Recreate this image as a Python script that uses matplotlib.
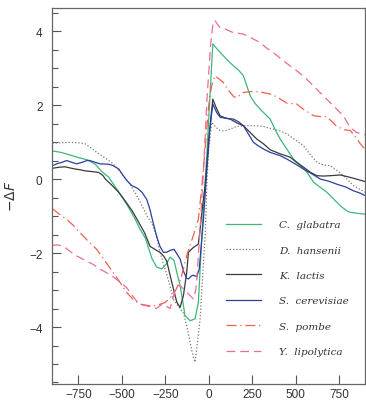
import matplotlib
matplotlib.use("Agg")
import matplotlib.pyplot as plt
from matplotlib.ticker import MultipleLocator

# C. glabatra
x_gla = [-900, -850, -800, -750, -700, -653, -615, -576, -518, -470, -424, -396, -365, -327, -300,
         -271, -245, -223, -200, -180, -165, -150, -137, -108, -79, -60, -45, -31, -12, 5, 23, 50,
         84, 110, 142, 170, 199, 220, 238, 265, 295, 325, 353, 380, 411, 450, 487, 530, 565, 603,
         640, 680, 720, 756, 790, 814, 860, 900]
y_gla = [0.76, 0.72, 0.65, 0.58, 0.52, 0.40, 0.20, 0.05, -0.35, -0.70, -1.08, -1.35, -1.60, -2.15, -2.38,
         -2.43, -2.30, -2.11, -2.20, -2.60, -2.88, -3.30, -3.69, -3.83, -3.78, -3.33, -2.00, -0.80, 0.60, 2.10, 3.65, 3.50,
         3.33, 3.20, 3.06, 2.95, 2.79, 2.50, 2.25, 2.05, 1.89, 1.75, 1.62, 1.35, 1.08, 0.80, 0.54, 0.35, 0.18, -0.09,
         -0.22, -0.36, -0.55, -0.72, -0.85, -0.90, -0.93, -0.95]

# D. hansenii
x_han = [-900, -850, -800, -750, -711, -680, -645, -600, -557, -510, -461, -420, -384, -350, -327, -300,
         -281, -260, -242, -220, -204, -175, -146, -125, -108, -90, -79, -65, -50, -35, -21, -10, 0, 17,
         40, 65, 90, 123, 160, 199, 240, 276, 315, 353, 411, 449, 500, 545, 585, 622, 660, 699, 740,
         775, 833, 870, 900]
y_han = [0.97, 0.98, 0.99, 0.98, 0.95, 0.85, 0.72, 0.58, 0.44, 0.20, -0.09, -0.40, -0.72, -1.05, -1.20, -1.55,
         -1.98, -2.30, -2.58, -2.95, -3.25, -3.45, -3.62, -4.00, -4.41, -4.80, -4.95, -4.40, -3.78, -2.60, -1.53, 0.00, 0.80, 1.53,
         1.40, 1.31, 1.30, 1.35, 1.42, 1.44, 1.44, 1.44, 1.42, 1.37, 1.30, 1.22, 1.05, 0.90, 0.65, 0.45, 0.38, 0.36, 0.22,
         0.09, -0.18, -0.28, -0.36]

# K. lactis
x_lac = [-900, -860, -826, -780, -740, -711, -670, -634, -610, -595, -555, -518, -480, -442, -403, -370,
         -338, -300, -281, -260, -242, -213, -184, -165, -146, -127, -117, -89, -60, -50, -35, -21, 0,
         23, 45, 65, 95, 123, 160, 199, 240, 276, 315, 353, 411, 468, 505, 545, 585, 622, 660, 699,
         756, 800, 833, 900]
y_lac = [0.29, 0.32, 0.33, 0.28, 0.25, 0.22, 0.20, 0.18, 0.10, 0.00, -0.18, -0.36, -0.60, -0.85, -1.17, -1.45,
         -1.82, -1.93, -1.98, -2.08, -2.22, -2.79, -3.33, -3.47, -3.15, -2.52, -1.98, -1.85, -1.76, -1.35, -0.70, -0.18, 1.10,
         2.16, 1.90, 1.71, 1.65, 1.62, 1.52, 1.44, 1.25, 1.08, 0.95, 0.79, 0.68, 0.59, 0.45, 0.32, 0.18, 0.09, 0.08, 0.09,
         0.11, 0.06, 0.02, -0.07]

# S. cerevisiae
x_cer = [-900, -870, -845, -818, -787, -760, -730, -700, -684, -653, -626, -576, -549, -518, -492, -470,
         -442, -410, -384, -357, -340, -319, -300, -281, -262, -242, -223, -200, -180, -165, -145, -127,
         -117, -100, -89, -69, -55, -40, -31, -12, 5, 23, 45, 65, 100, 142, 170, 199, 230, 257, 290,
         315, 353, 411, 449, 500, 545, 600, 641, 690, 737, 790, 833, 870, 900]
y_cer = [0.36, 0.42, 0.45, 0.50, 0.45, 0.41, 0.45, 0.50, 0.50, 0.45, 0.41, 0.40, 0.36, 0.27, 0.09, -0.05,
         -0.18, -0.25, -0.36, -0.55, -0.80, -1.20, -1.55, -1.82, -1.98, -1.98, -1.93, -1.90, -2.05, -2.16, -2.50, -2.68,
         -2.70, -2.62, -2.60, -2.64, -2.43, -1.60, -1.10, 0.20, 1.30, 2.03, 1.80, 1.67, 1.64, 1.62, 1.55, 1.44, 1.20, 0.99, 0.88,
         0.81, 0.72, 0.63, 0.54, 0.40, 0.27, 0.12, 0.00, -0.06, -0.14, -0.22, -0.32, -0.38, -0.45]

# S. pombe
x_pom = [-900, -860, -818, -780, -741, -700, -645, -600, -549, -510, -472, -430, -396, -350, -319, -290,
         -252, -220, -190, -165, -146, -127, -108, -89, -60, -40, -20, 0, 15, 36, 60, 84, 105, 123, 145,
         161, 180, 199, 257, 300, 351, 392, 449, 505, 540, 603, 640, 680, 737, 780, 814, 850, 872, 900]
y_pom = [-0.80, -0.95, -1.09, -1.25, -1.45, -1.65, -1.90, -2.20, -2.53, -2.80, -3.07, -3.28, -3.38, -3.42, -3.43, -3.40,
         -3.34, -3.20, -3.00, -2.75, -2.43, -2.07, -1.80, -1.53, -1.08, -0.20, 0.90, 2.00, 2.50, 2.79, 2.70, 2.61, 2.45, 2.34, 2.22,
         2.20, 2.27, 2.34, 2.37, 2.35, 2.30, 2.22, 2.05, 2.03, 1.90, 1.71, 1.69, 1.68, 1.42, 1.33, 1.31, 1.10, 0.95, 0.80]

# Y. lipolytica
x_lip = [-900, -870, -837, -800, -760, -710, -665, -620, -569, -520, -472, -440, -415, -385, -357, -320,
         -300, -280, -262, -240, -223, -205, -190, -177, -160, -145, -127, -108, -89, -75, -69, -50, -30,
         -10, 10, 25, 36, 50, 63, 84, 110, 140, 198, 250, 294, 330, 370, 428, 470, 505, 545, 582, 639,
         680, 716, 774, 812, 850, 880, 900]
y_lip = [-1.79, -1.78, -1.81, -1.95, -2.08, -2.20, -2.31, -2.45, -2.58, -2.75, -2.94, -3.15, -3.30, -3.40, -3.43, -3.47,
         -3.50, -3.42, -3.38, -3.45, -3.50, -3.20, -2.95, -2.87, -2.90, -2.98, -3.06, -3.15, -3.24, -3.00, -2.70, -1.35, 0.30,
         2.20, 3.60, 4.25, 4.28, 4.18, 4.10, 4.08, 4.02, 3.96, 3.92, 3.80, 3.69, 3.55, 3.42, 3.20, 3.05, 2.93, 2.78, 2.61, 2.34,
         2.15, 1.98, 1.71, 1.40, 1.26, 1.22, 1.20]

fig = plt.figure(figsize=(3.66, 4.14), dpi=100)
ax = fig.add_axes([0.143, 0.071, 0.855, 0.907])

lw = 0.9
ax.plot(x_gla, y_gla, color="#3cb878", lw=lw, label="C.  glabatra")
ax.plot(x_han, y_han, color="#777777", lw=lw, ls=(0, (1, 1.6)), label="D.  hansenii")
ax.plot(x_lac, y_lac, color="#3a3a3a", lw=lw, label="K.  lactis")
ax.plot(x_cer, y_cer, color="#2b3f9e", lw=lw, label="S.  cerevisiae")
ax.plot(x_pom, y_pom, color="#f0604c", lw=lw, ls=(0, (8, 3, 1, 3)), label="S.  pombe")
ax.plot(x_lip, y_lip, color="#ec6b98", lw=lw, ls=(0, (7, 4)), label="Y.  lipolytica")

ax.set_xlim(-900, 900)
ax.set_ylim(-5.53, 4.62)
ax.xaxis.set_major_locator(MultipleLocator(250))
ax.yaxis.set_major_locator(MultipleLocator(2))
ax.yaxis.set_minor_locator(MultipleLocator(0.5))
ax.tick_params(which="both", direction="in", top=False, right=False, colors="#555555",
               labelcolor="#333333", labelsize=8.5)
ax.tick_params(which="major", length=6.5, width=0.8)
ax.tick_params(which="minor", length=4.3, width=0.8)
ax.tick_params(axis="y", pad=7)
for lab in ax.get_xticklabels() + ax.get_yticklabels():
    lab.set_family("Liberation Sans")
for s in ax.spines.values():
    s.set_color("#666666")
    s.set_linewidth(0.9)

plt.rcParams["mathtext.fontset"] = "dejavuserif"
ax.set_ylabel(r"$-\Delta F$", fontsize=10, color="#333333", labelpad=8)

leg = ax.legend(loc="upper left", bbox_to_anchor=(0.554, 0.436), frameon=False,
                prop={"family": "DejaVu Serif", "style": "italic", "size": 7.5},
                handlelength=3.4, handletextpad=1.75, labelspacing=1.55,
                borderpad=0, borderaxespad=0)
for t in leg.get_texts():
    t.set_color("#333333")

fig.savefig("out.png", dpi=100)
